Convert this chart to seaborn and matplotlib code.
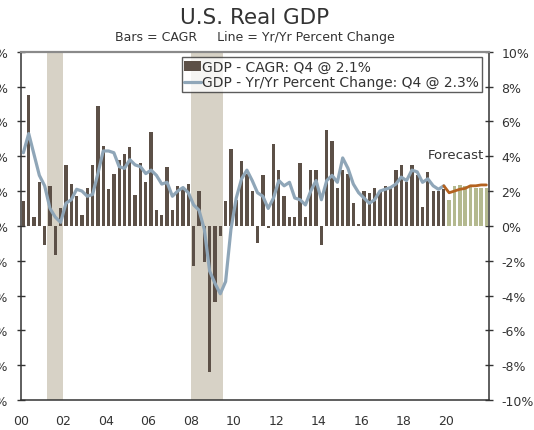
import numpy as np
import pandas as pd
import seaborn as sns
import matplotlib.pyplot as plt
from matplotlib.patches import Patch
from matplotlib.lines import Line2D

# quarterly CAGR, 2000Q1 - 2019Q4 (actual)
cagr = [1.4, 7.5, 0.5, 2.5,
        -1.1, 2.3, -1.7, 1.0,
        3.5, 2.4, 1.7, 0.6,
        2.2, 3.5, 6.9, 4.6,
        2.1, 3.0, 3.8, 4.1,
        4.5, 1.8, 3.6, 2.5,
        5.4, 0.9, 0.6, 3.4,
        0.9, 2.3, 2.2, 2.4,
        -2.3, 2.0, -2.1, -8.4,
        -4.4, -0.6, 1.4, 4.4,
        1.5, 3.7, 3.0, 2.0,
        -1.0, 2.9, -0.1, 4.7,
        3.2, 1.7, 0.5, 0.5,
        3.6, 0.5, 3.2, 3.2,
        -1.1, 5.5, 4.9, 2.2,
        3.2, 3.0, 1.3, 0.1,
        2.0, 1.9, 2.2, 2.0,
        2.3, 2.2, 3.2, 3.5,
        2.5, 3.5, 2.9, 1.1,
        3.1, 2.0, 2.0, 2.1]
# forecast CAGR 2020Q1 - 2021Q4
cagr_fc = [1.5, 2.3, 2.35, 2.3, 2.25, 2.2, 2.2, 2.2]

# year over year, 2000Q1 - 2019Q4
yoy = [4.2, 5.3, 4.1, 2.9,
       2.3, 1.0, 0.5, 0.2,
       1.3, 1.5, 2.1, 2.0,
       1.7, 1.8, 3.0, 4.3,
       4.3, 4.2, 3.4, 3.3,
       3.8, 3.5, 3.4, 3.0,
       3.2, 2.9, 2.4, 2.5,
       1.7, 2.0, 2.2, 1.9,
       1.2, 0.9, -0.2, -2.6,
       -3.3, -3.9, -3.2, -0.2,
       1.6, 2.7, 3.2, 2.6,
       1.9, 1.7, 1.0, 1.6,
       2.6, 2.3, 2.5, 1.6,
       1.5, 1.2, 2.0, 2.6,
       1.5, 2.6, 2.9, 2.5,
       3.9, 3.3, 2.4, 1.9,
       1.6, 1.3, 1.5, 2.0,
       2.1, 2.2, 2.4, 2.8,
       2.6, 3.2, 3.1, 2.5,
       2.7, 2.3, 2.1, 2.3]
# forecast yoy 2019Q4 - 2021Q4
yoy_fc = [2.3, 1.9, 2.0, 2.1, 2.15, 2.3, 2.3, 2.35, 2.35]

recessions = [(2001.25, 2002.0), (2008.0, 2009.5)]
xtick_years = [2000, 2002, 2004, 2006, 2008, 2010, 2012, 2014, 2016, 2018, 2020]
ytick_vals = [-10, -8, -6, -4, -2, 0, 2, 4, 6, 8, 10]

bar_col = '#5c5047'
fc_col = '#b4b98f'
blue = '#8fa6b8'
orange = '#b4621f'
shade = '#d7d2c6'
txt = '#333333'

qtrs = 2000 + (np.arange(len(cagr) + len(cagr_fc)) + 0.5) / 4
df_a = pd.DataFrame({'t': qtrs[:len(cagr)], 'v': cagr})
df_f = pd.DataFrame({'t': qtrs[len(cagr):], 'v': cagr_fc})
df_y = pd.DataFrame({'t': qtrs[:len(yoy)], 'v': yoy})
df_yf = pd.DataFrame({'t': qtrs[len(yoy) - 1:], 'v': yoy_fc})

sns.set_style('white')
plt.rcParams['font.family'] = ['DejaVu Sans']

fig = plt.figure(figsize=(5.34, 4.31), dpi=100)
ax = fig.add_axes([0.0388, 0.0696, 0.877, 0.8081])

sns.barplot(data=df_a, x='t', y='v', native_scale=True, color=bar_col,
            width=0.62, errorbar=None, saturation=1, ax=ax, zorder=2)
sns.barplot(data=df_f, x='t', y='v', native_scale=True, color=fc_col,
            width=0.7, errorbar=None, saturation=1, ax=ax, zorder=2)
# force bar widths in data units (one quarter = 0.25)
for p in ax.patches:
    w_new = 0.155 if p.get_facecolor()[1] < 0.5 else 0.17
    cx = p.get_x() + p.get_width() / 2
    p.set_width(w_new)
    p.set_x(cx - w_new / 2)
    p.set_linewidth(0)

for a, b in recessions:
    ax.axvspan(a, b, color=shade, lw=0, zorder=0)

sns.lineplot(data=df_y, x='t', y='v', color=blue, lw=2.3, ax=ax, zorder=3)
sns.lineplot(data=df_yf, x='t', y='v', color=orange, lw=2.0, ax=ax, zorder=3)

ax.set_xlim(2000, 2022)
ax.set_ylim(-10, 10)
ax.set_xlabel('')
ax.set_ylabel('')
ax.set_xticks(xtick_years)
ax.set_xticklabels(['%02d' % (y % 100) for y in xtick_years], fontsize=9, color=txt)
ax.set_yticks(ytick_vals)
ax.set_yticklabels(['%d%%' % v for v in ytick_vals], fontsize=9, color=txt)
ax.tick_params(axis='both', direction='inout', length=6, width=1, color='#333333',
               left=True, right=True, labelleft=True, labelright=True, pad=6)
ax.tick_params(axis='x', pad=7)

for s in ['left', 'right', 'bottom']:
    ax.spines[s].set_color('#333333')
    ax.spines[s].set_linewidth(1.1)
ax.spines['top'].set_color('#8a8a8a')
ax.spines['top'].set_linewidth(1.6)

ax.text(2021.75, 4.1, 'Forecast', ha='right', va='center', fontsize=9.5, color=txt)

handles = [Patch(facecolor=bar_col, edgecolor='none'),
           Line2D([0], [0], color=blue, lw=2.3)]
labels = ['GDP - CAGR: Q4 @ 2.1%', 'GDP - Yr/Yr Percent Change: Q4 @ 2.3%']
leg = ax.legend(handles, labels, loc='upper right', bbox_to_anchor=(482 / 534, 1 - 58 / 431),
                bbox_transform=fig.transFigure, fontsize=10, frameon=True, fancybox=False,
                handlelength=1.2, handletextpad=0.1, borderpad=0.2, labelspacing=0.12,
                borderaxespad=0)
leg.get_frame().set_edgecolor('#333333')
leg.get_frame().set_linewidth(1.0)
for t in leg.get_texts():
    t.set_color(txt)

fig.text(255 / 534, 1 - 18 / 431, 'U.S. Real GDP', ha='center', va='center', fontsize=15.5, color=txt)
fig.text(255 / 534, 1 - 37 / 431, 'Bars = CAGR     Line = Yr/Yr Percent Change',
         ha='center', va='center', fontsize=9, color=txt)

fig.savefig('out.png', dpi=100)
